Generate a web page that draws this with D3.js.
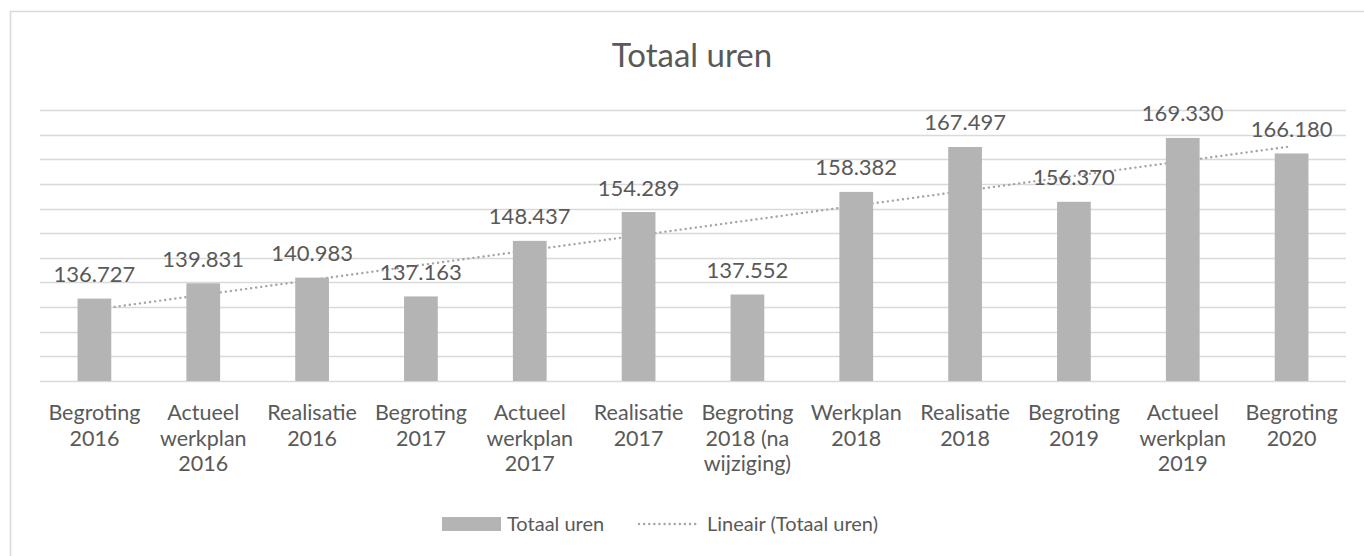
<!DOCTYPE html>
<html>
<head>
<meta charset="utf-8">
<script src="https://cdn.jsdelivr.net/npm/d3@7"></script>
<style>
  body { margin: 0; background: #fff; }
  text { font-family: Lato, "Open Sans", sans-serif; fill: #595959; }
</style>
</head>
<body>
<div id="chart"></div>
<script>
// categories (line breaks as in the picture)
var categories = [
    ["Begroting", "2016"],
    ["Actueel", "werkplan", "2016"],
    ["Realisatie", "2016"],
    ["Begroting", "2017"],
    ["Actueel", "werkplan", "2017"],
    ["Realisatie", "2017"],
    ["Begroting", "2018 (na", "wijziging)"],
    ["Werkplan", "2018"],
    ["Realisatie", "2018"],
    ["Begroting", "2019"],
    ["Actueel", "werkplan", "2019"],
    ["Begroting", "2020"]
];
var totaalUren = [136727, 139831, 140983, 137163, 148437, 154289, 137552, 158382, 167497, 156370, 169330, 166180];
var yTicks = [120000, 125000, 130000, 135000, 140000, 145000, 150000, 155000, 160000, 165000, 170000, 175000];
var title = "Totaal uren";
var legendLabels = ["Totaal uren", "Lineair (Totaal uren)"];

var width = 1364, height = 556;
var svg = d3.select('#chart')
    .append('svg')
    .attr('width', width)
    .attr('height', height);

// chart area border (only top/left visible in picture)
svg.append('rect')
    .attr('x', 10.5).attr('y', 11.5)
    .attr('width', 1400).attr('height', 600)
    .attr('fill', 'none')
    .attr('stroke', '#d9d9d9')
    .attr('stroke-width', 1.5);

var x = d3.scaleBand()
    .domain(d3.range(categories.length))
    .range([40, 1346])
    .paddingInner(0.69)
    .paddingOuter(0.345);

var band = d3.scaleBand()
    .domain(d3.range(categories.length))
    .range([40, 1346]);

var y = d3.scaleLinear()
    .domain([120000, 175000])
    .range([381, 110]);

// gridlines
svg.append('g')
    .selectAll('line')
    .data(yTicks)
    .enter()
    .append('line')
    .attr('x1', 40).attr('x2', 1346)
    .attr('y1', function(d) { return Math.round(y(d)) + 0.5; })
    .attr('y2', function(d) { return Math.round(y(d)) + 0.5; })
    .attr('stroke', '#d9d9d9')
    .attr('stroke-width', 1.5);

// linear trendline (least squares), drawn behind the bars
var n = totaalUren.length;
var mx = d3.mean(d3.range(n)), my = d3.mean(totaalUren);
var sxy = 0, sxx = 0;
totaalUren.forEach(function(v, i) {
    sxy += (i - mx) * (v - my);
    sxx += (i - mx) * (i - mx);
});
var slope = sxy / sxx, icpt = my - slope * mx;
var cx = function(i) { return band(i) + band.bandwidth() / 2; };

svg.append('line')
    .attr('x1', cx(0)).attr('y1', y(icpt))
    .attr('x2', cx(n - 1)).attr('y2', y(icpt + slope * (n - 1)))
    .attr('stroke', '#a6a6a6')
    .attr('stroke-width', 2.4)
    .attr('stroke-linecap', 'round')
    .attr('stroke-dasharray', '0.1,5');

// bars
svg.selectAll('rect.bar')
    .data(totaalUren)
    .enter()
    .append('rect')
    .attr('class', 'bar')
    .attr('x', function(d, i) { return x(i); })
    .attr('y', function(d) { return y(d); })
    .attr('width', x.bandwidth())
    .attr('height', function(d) { return y(120000) - y(d); })
    .attr('fill', '#b4b4b4');

// value labels
svg.selectAll('text.val')
    .data(totaalUren)
    .enter()
    .append('text')
    .attr('class', 'val')
    .attr('x', function(d, i) { return cx(i); })
    .attr('y', function(d) { return y(d) - 16.5; })
    .attr('text-anchor', 'middle')
    .style('font-size', '22px')
    .text(function(d) { return d3.format(',')(d).replace(/,/g, '.'); });

// category labels
var cat = svg.selectAll('text.cat')
    .data(categories)
    .enter()
    .append('text')
    .attr('class', 'cat')
    .attr('text-anchor', 'middle')
    .style('font-size', '21.5px');
cat.selectAll('tspan')
    .data(function(d, i) { return d.map(function(s) { return { s: s, i: i }; }); })
    .enter()
    .append('tspan')
    .attr('x', function(d) { return cx(d.i); })
    .attr('y', function(d, j) { return 420 + j * 25.5; })
    .text(function(d) { return d.s; });

// title
svg.append('text')
    .attr('x', 692)
    .attr('y', 67)
    .attr('text-anchor', 'middle')
    .style('font-size', '33px')
    .text(title);

// legend
var lg = svg.append('g');
lg.append('rect')
    .attr('x', 442).attr('y', 517)
    .attr('width', 59).attr('height', 14)
    .attr('fill', '#b4b4b4');
lg.append('text')
    .attr('x', 507).attr('y', 531)
    .style('font-size', '20px')
    .text(legendLabels[0]);
lg.append('line')
    .attr('x1', 639).attr('x2', 696)
    .attr('y1', 524).attr('y2', 524)
    .attr('stroke', '#a6a6a6')
    .attr('stroke-width', 2.4)
    .attr('stroke-linecap', 'round')
    .attr('stroke-dasharray', '0.1,5');
lg.append('text')
    .attr('x', 707).attr('y', 531)
    .style('font-size', '20px')
    .text(legendLabels[1]);
</script>
</body>
</html>
